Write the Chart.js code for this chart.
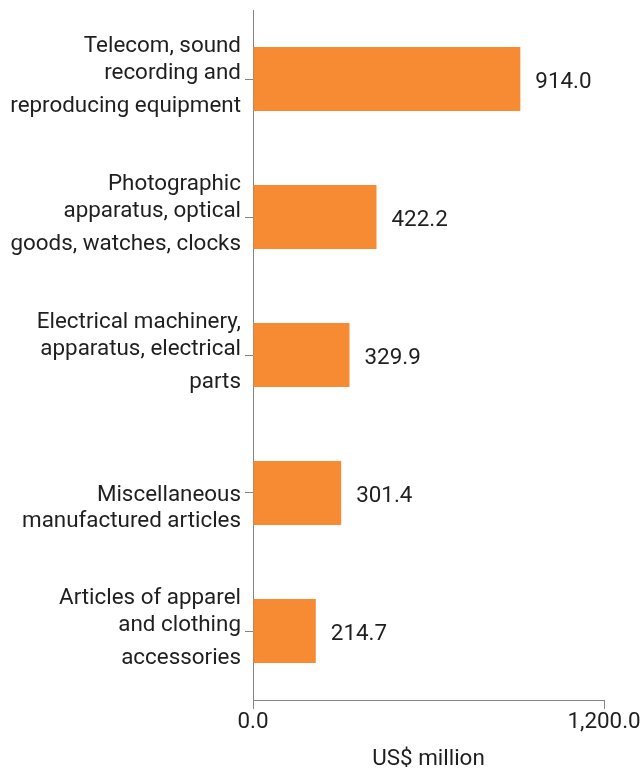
<!DOCTYPE html>
<html>
<head>
<meta charset="utf-8">
<script src="https://cdn.jsdelivr.net/npm/chart.js@4/dist/chart.umd.min.js"></script>
<style>
  html, body { margin: 0; padding: 0; background: #ffffff; }
  #wrap { width: 643px; height: 773px; position: relative; }
</style>
</head>
<body>
<div id="wrap"><canvas id="chart"></canvas></div>
<script>
// Product groups (wrapped into lines) and their values in US$ million
const categories = [
  ["Telecom, sound", "recording and", "reproducing equipment"],
  ["Photographic", "apparatus, optical", "goods, watches, clocks"],
  ["Electrical machinery,", "apparatus, electrical", "parts"],
  ["Miscellaneous", "manufactured articles"],
  ["Articles of apparel", "and clothing", "accessories"]
];
const values = [914.0, 422.2, 329.9, 301.4, 214.7];
const xTicks = [0, 1200];
const axisTitle = "US$ million";

const FONT = "Roboto, 'Liberation Sans', sans-serif";
const FONT_SIZE = 22.4;
const TEXT = "#1f1f1f";
const AXIS = "#858585";
const BAR = "#F68B33";

const fmt = v => v.toLocaleString("en-US", { minimumFractionDigits: 1, maximumFractionDigits: 1 });

// Category labels drawn beside the tick marks, with the source's line layout
const categoryLabels = {
  id: "categoryLabels",
  afterDraw(chart) {
    const { ctx } = chart;
    const y = chart.scales.y;
    const rightX = y.right - 12;
    const offsets = { 1: [8], 2: [7.5, 33.5], 3: [-27, 0, 33] };
    ctx.save();
    ctx.font = FONT_SIZE + "px " + FONT;
    ctx.fillStyle = TEXT;
    ctx.textAlign = "right";
    ctx.textBaseline = "alphabetic";
    categories.forEach((lines, i) => {
      const py = y.getPixelForTick(i);
      const off = offsets[lines.length];
      lines.forEach((line, j) => ctx.fillText(line, rightX, py + off[j]));
    });
    ctx.restore();
  }
};

// Value labels at the end of each bar
const valueLabels = {
  id: "valueLabels",
  afterDatasetsDraw(chart) {
    const { ctx } = chart;
    const meta = chart.getDatasetMeta(0);
    ctx.save();
    ctx.font = FONT_SIZE + "px " + FONT;
    ctx.fillStyle = TEXT;
    ctx.textAlign = "left";
    ctx.textBaseline = "alphabetic";
    meta.data.forEach((bar, i) => {
      ctx.fillText(fmt(values[i]), bar.x + 15, bar.y + 8.5);
    });
    ctx.restore();
  }
};

new Chart(document.getElementById("chart"), {
  type: "bar",
  data: {
    labels: categories,
    datasets: [{
      data: values,
      backgroundColor: BAR,
      borderWidth: 0,
      categoryPercentage: 1,
      barPercentage: 0.464
    }]
  },
  options: {
    indexAxis: "y",
    responsive: true,
    maintainAspectRatio: false,
    animation: false,
    layout: { padding: { top: 10, right: 39, bottom: 0, left: 0 } },
    plugins: { legend: { display: false }, tooltip: { enabled: false } },
    scales: {
      x: {
        type: "linear",
        min: xTicks[0],
        max: xTicks[xTicks.length - 1],
        afterBuildTicks(scale) { scale.ticks = xTicks.map(v => ({ value: v })); },
        afterFit(scale) { scale.height = 73; },
        border: { display: true, color: AXIS, width: 1 },
        grid: { display: true, drawOnChartArea: false, drawTicks: true, tickLength: 9, color: AXIS },
        ticks: {
          padding: 0,
          maxRotation: 0,
          autoSkip: false,
          color: TEXT,
          font: { family: FONT, size: FONT_SIZE },
          callback: v => fmt(v)
        },
        title: {
          display: true,
          text: axisTitle,
          color: TEXT,
          font: { family: FONT, size: FONT_SIZE },
          padding: { top: 0, bottom: 0 }
        }
      },
      y: {
        type: "category",
        afterFit(scale) { scale.width = 253; },
        border: { display: true, color: AXIS, width: 1 },
        grid: { display: true, offset: false, drawOnChartArea: false, drawTicks: true, tickLength: 8, color: AXIS },
        ticks: { display: false }
      }
    }
  },
  plugins: [categoryLabels, valueLabels]
});
</script>
</body>
</html>
